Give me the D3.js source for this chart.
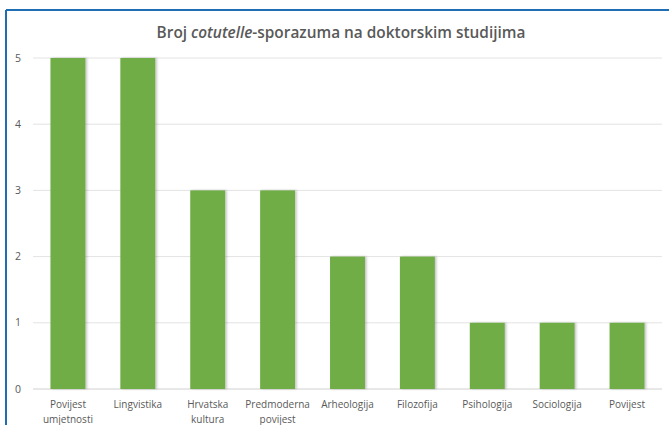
<!DOCTYPE html>
<html>
<head>
<meta charset="utf-8">
<script src="https://cdn.jsdelivr.net/npm/d3@7"></script>
<style>
  body { margin: 0; background: #fff; }
  svg { display: block; font-family: "Open Sans", "Liberation Sans", sans-serif; }
</style>
</head>
<body>
<div id="chart"></div>
<script>
const categories = [
  ['Povijest', 'umjetnosti'],
  ['Lingvistika'],
  ['Hrvatska', 'kultura'],
  ['Predmoderna', 'povijest'],
  ['Arheologija'],
  ['Filozofija'],
  ['Psihologija'],
  ['Sociologija'],
  ['Povijest']
];
const values = [5, 5, 3, 3, 2, 2, 1, 1, 1];
const yTicks = [0, 1, 2, 3, 4, 5];

const W = 669, H = 425;
const margin = { top: 58, right: 7, bottom: 36, left: 33 };
const innerW = W - margin.left - margin.right;
const innerH = H - margin.top - margin.bottom;

const svg = d3.select('#chart')
  .append('svg')
  .attr('width', W)
  .attr('height', H);

// Frame (top and left blue border)
svg.append('line')
  .attr('x1', 6).attr('y1', 10).attr('x2', W).attr('y2', 10)
  .attr('stroke', '#1f6db3').attr('stroke-width', 2);
svg.append('line')
  .attr('x1', 6).attr('y1', 10).attr('x2', 6).attr('y2', H)
  .attr('stroke', '#1f6db3').attr('stroke-width', 2);

// Title
const title = svg.append('text')
  .attr('x', 341)
  .attr('y', 38)
  .attr('text-anchor', 'middle')
  .attr('fill', '#595959')
  .attr('font-size', 15.4)
  .attr('font-weight', 600);
title.append('tspan').text('Broj ');
title.append('tspan').attr('font-style', 'italic').text('cotutelle');
title.append('tspan').text('-sporazuma na doktorskim studijima');

const g = svg.append('g').attr('transform', `translate(${margin.left},${margin.top})`);

const x = d3.scaleBand()
  .domain(d3.range(categories.length))
  .range([0, innerW])
  .paddingInner(0.5)
  .paddingOuter(0.25);

const y = d3.scaleLinear()
  .domain([0, 5])
  .range([innerH, 0]);

// Gridlines
g.selectAll('.grid')
  .data(yTicks)
  .enter()
  .append('line')
  .attr('x1', 0)
  .attr('x2', innerW)
  .attr('y1', d => y(d))
  .attr('y2', d => y(d))
  .attr('stroke', d => d === 0 ? '#d0d0d0' : '#e3e3e3')
  .attr('stroke-width', 1);

// Y tick labels
g.selectAll('.ylab')
  .data(yTicks)
  .enter()
  .append('text')
  .attr('x', -15)
  .attr('y', d => y(d))
  .attr('dy', '0.35em')
  .attr('text-anchor', 'middle')
  .attr('fill', '#595959')
  .attr('font-size', 10.5)
  .text(d => d);

// Shadow filter
const defs = svg.append('defs');
const f = defs.append('filter').attr('id', 'sh').attr('x', '-20%').attr('y', '-5%').attr('width', '140%').attr('height', '110%');
f.append('feDropShadow').attr('dx', 1.5).attr('dy', 0).attr('stdDeviation', 1).attr('flood-color', '#000').attr('flood-opacity', 0.25);

// Bars
g.selectAll('.bar')
  .data(values)
  .enter()
  .append('rect')
  .attr('x', (d, i) => x(i))
  .attr('y', d => y(d))
  .attr('width', x.bandwidth())
  .attr('height', d => innerH - y(d))
  .attr('fill', '#70ad47')
  .attr('filter', 'url(#sh)');

// X labels
const xl = g.selectAll('.xlab')
  .data(categories)
  .enter()
  .append('text')
  .attr('x', (d, i) => x(i) + x.bandwidth() / 2)
  .attr('y', innerH + 19)
  .attr('text-anchor', 'middle')
  .attr('fill', '#595959')
  .attr('font-size', 10);
xl.selectAll('tspan')
  .data(d => d)
  .enter()
  .append('tspan')
  .attr('x', function () { return d3.select(this.parentNode).attr('x'); })
  .attr('dy', (d, i) => i === 0 ? 0 : 15)
  .text(d => d);
</script>
</body>
</html>
